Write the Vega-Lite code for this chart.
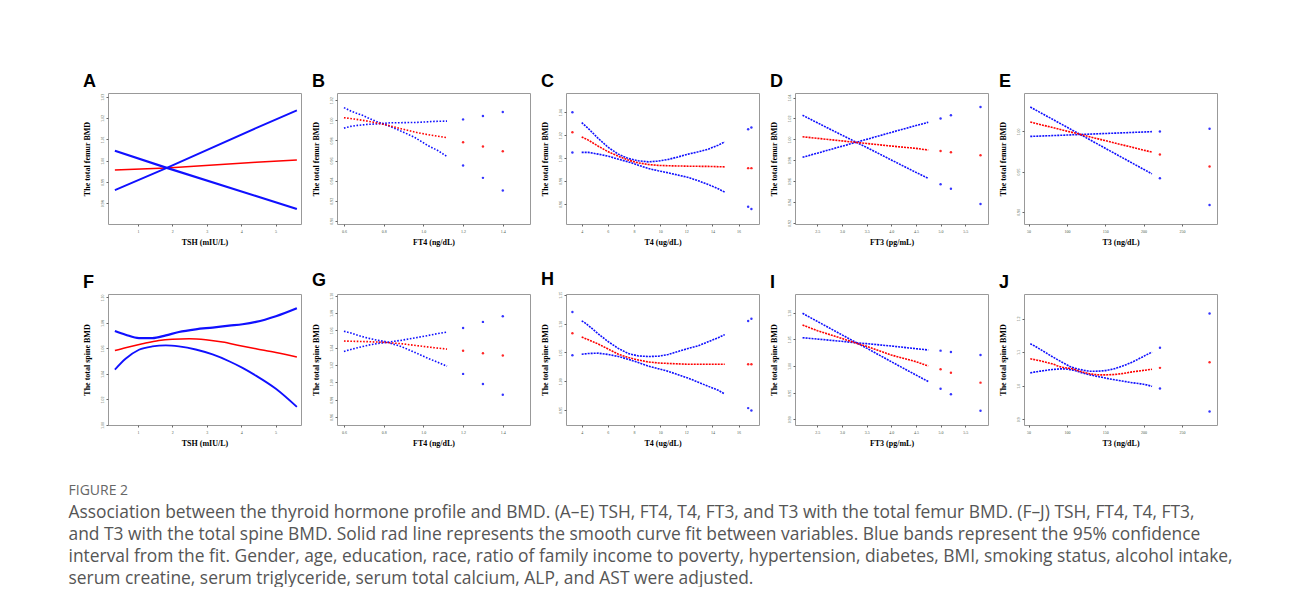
{
"$schema":"https://vega.github.io/schema/vega-lite/v6.json",
"background":"white",
"padding":{"left":68,"top":72,"right":0,"bottom":0},
"datasets":{
"A":[
{"s":"fit","x":0.33,"y":0.9956,"k":"l"},{"s":"fit","x":1.84,"y":0.9966,"k":"l"},{"s":"fit","x":4.43,"y":0.9992,"k":"l"},{"s":"fit","x":5.62,"y":1.0003,"k":"l"},
{"s":"lo","x":0.33,"y":0.9862,"k":"l"},{"s":"lo","x":1.84,"y":0.9966,"k":"l"},{"s":"lo","x":4.43,"y":1.0152,"k":"l"},{"s":"lo","x":5.62,"y":1.0236,"k":"l"},
{"s":"hi","x":0.33,"y":1.0046,"k":"l"},{"s":"hi","x":1.84,"y":0.9966,"k":"l"},{"s":"hi","x":4.43,"y":0.9834,"k":"l"},{"s":"hi","x":5.62,"y":0.9773,"k":"l"}],
"B":[
{"s":"hi","x":0.6,"y":1.0127,"k":"l"},{"s":"hi","x":0.635,"y":1.0093,"k":"l"},{"s":"hi","x":0.669,"y":1.0067,"k":"l"},{"s":"hi","x":0.694,"y":1.005,"k":"l"},{"s":"hi","x":0.719,"y":1.0027,"k":"l"},{"s":"hi","x":0.77,"y":0.9983,"k":"l"},{"s":"hi","x":0.82,"y":0.995,"k":"l"},{"s":"hi","x":0.887,"y":0.9893,"k":"l"},{"s":"hi","x":0.954,"y":0.9833,"k":"l"},{"s":"hi","x":1.022,"y":0.975,"k":"l"},{"s":"hi","x":1.072,"y":0.97,"k":"l"},{"s":"hi","x":1.119,"y":0.964,"k":"l"},
{"s":"hi","x":1.2,"y":0.955,"k":"p"},{"s":"hi","x":1.3,"y":0.9427,"k":"p"},{"s":"hi","x":1.4,"y":0.93,"k":"p"},
{"s":"lo","x":0.6,"y":0.9923,"k":"l"},{"s":"lo","x":0.635,"y":0.994,"k":"l"},{"s":"lo","x":0.669,"y":0.995,"k":"l"},{"s":"lo","x":0.719,"y":0.996,"k":"l"},{"s":"lo","x":0.786,"y":0.9967,"k":"l"},{"s":"lo","x":0.836,"y":0.9977,"k":"l"},{"s":"lo","x":0.887,"y":0.9977,"k":"l"},{"s":"lo","x":0.971,"y":0.998,"k":"l"},{"s":"lo","x":1.055,"y":0.999,"k":"l"},{"s":"lo","x":1.119,"y":0.9993,"k":"l"},
{"s":"lo","x":1.2,"y":1.001,"k":"p"},{"s":"lo","x":1.3,"y":1.0043,"k":"p"},{"s":"lo","x":1.4,"y":1.0083,"k":"p"},
{"s":"fit","x":0.6,"y":1.0027,"k":"l"},{"s":"fit","x":0.653,"y":1.0013,"k":"l"},{"s":"fit","x":0.719,"y":0.9993,"k":"l"},{"s":"fit","x":0.803,"y":0.996,"k":"l"},{"s":"fit","x":0.887,"y":0.9917,"k":"l"},{"s":"fit","x":0.971,"y":0.9877,"k":"l"},{"s":"fit","x":1.055,"y":0.9847,"k":"l"},{"s":"fit","x":1.119,"y":0.9827,"k":"l"},
{"s":"fit","x":1.2,"y":0.9783,"k":"p"},{"s":"fit","x":1.3,"y":0.974,"k":"p"},{"s":"fit","x":1.4,"y":0.9693,"k":"p"}],
"C":[
{"s":"hi","x":3.29,"y":1.04,"k":"p"},{"s":"fit","x":3.29,"y":1.0226,"k":"p"},{"s":"lo","x":3.29,"y":1.005,"k":"p"},
{"s":"hi","x":4.0,"y":1.031,"k":"l"},{"s":"hi","x":4.51,"y":1.0258,"k":"l"},{"s":"hi","x":4.89,"y":1.0215,"k":"l"},{"s":"hi","x":5.27,"y":1.0171,"k":"l"},{"s":"hi","x":6.04,"y":1.0093,"k":"l"},{"s":"hi","x":6.8,"y":1.0035,"k":"l"},{"s":"hi","x":7.56,"y":0.9997,"k":"l"},{"s":"hi","x":8.33,"y":0.9977,"k":"l"},{"s":"hi","x":9.09,"y":0.9968,"k":"l"},{"s":"hi","x":9.85,"y":0.9974,"k":"l"},{"s":"hi","x":10.62,"y":0.9989,"k":"l"},{"s":"hi","x":11.38,"y":1.0011,"k":"l"},{"s":"hi","x":12.15,"y":1.0035,"k":"l"},{"s":"hi","x":12.91,"y":1.0055,"k":"l"},{"s":"hi","x":13.67,"y":1.0078,"k":"l"},{"s":"hi","x":14.44,"y":1.0113,"k":"l"},{"s":"hi","x":14.94,"y":1.0142,"k":"l"},
{"s":"hi","x":16.73,"y":1.0252,"k":"p"},{"s":"hi","x":16.98,"y":1.0267,"k":"p"},
{"s":"lo","x":4.0,"y":1.005,"k":"l"},{"s":"lo","x":4.51,"y":1.005,"k":"l"},{"s":"lo","x":5.27,"y":1.0035,"k":"l"},{"s":"lo","x":6.04,"y":1.0017,"k":"l"},{"s":"lo","x":6.8,"y":0.9991,"k":"l"},{"s":"lo","x":7.56,"y":0.9968,"k":"l"},{"s":"lo","x":8.33,"y":0.9939,"k":"l"},{"s":"lo","x":9.09,"y":0.991,"k":"l"},{"s":"lo","x":9.85,"y":0.989,"k":"l"},{"s":"lo","x":10.62,"y":0.9872,"k":"l"},{"s":"lo","x":11.38,"y":0.9852,"k":"l"},{"s":"lo","x":12.15,"y":0.9832,"k":"l"},{"s":"lo","x":12.91,"y":0.9803,"k":"l"},{"s":"lo","x":13.67,"y":0.9771,"k":"l"},{"s":"lo","x":14.44,"y":0.9733,"k":"l"},{"s":"lo","x":14.94,"y":0.9704,"k":"l"},
{"s":"lo","x":16.73,"y":0.9577,"k":"p"},{"s":"lo","x":16.98,"y":0.9557,"k":"p"},
{"s":"fit","x":4.0,"y":1.0185,"k":"l"},{"s":"fit","x":4.51,"y":1.0157,"k":"l"},{"s":"fit","x":5.27,"y":1.0104,"k":"l"},{"s":"fit","x":6.04,"y":1.0055,"k":"l"},{"s":"fit","x":6.8,"y":1.0017,"k":"l"},{"s":"fit","x":7.56,"y":0.9983,"k":"l"},{"s":"fit","x":8.33,"y":0.9959,"k":"l"},{"s":"fit","x":9.09,"y":0.9945,"k":"l"},{"s":"fit","x":9.85,"y":0.9937,"k":"l"},{"s":"fit","x":10.87,"y":0.9933,"k":"l"},{"s":"fit","x":12.15,"y":0.993,"k":"l"},{"s":"fit","x":13.67,"y":0.9928,"k":"l"},{"s":"fit","x":14.94,"y":0.9924,"k":"l"},
{"s":"fit","x":16.73,"y":0.9913,"k":"p"},{"s":"fit","x":16.98,"y":0.9913,"k":"p"}],
"D":[
{"s":"hi","x":2.2,"y":1.0231,"k":"l"},{"s":"hi","x":2.5,"y":1.0159,"k":"l"},{"s":"hi","x":2.99,"y":1.0043,"k":"l"},{"s":"hi","x":3.31,"y":0.9968,"k":"l"},{"s":"hi","x":3.5,"y":0.9923,"k":"l"},{"s":"hi","x":4.0,"y":0.9803,"k":"l"},{"s":"hi","x":4.5,"y":0.9684,"k":"l"},{"s":"hi","x":4.75,"y":0.9627,"k":"l"},
{"s":"hi","x":5.0,"y":0.9571,"k":"p"},{"s":"hi","x":5.21,"y":0.9527,"k":"p"},{"s":"hi","x":5.81,"y":0.9381,"k":"p"},
{"s":"lo","x":2.2,"y":0.9829,"k":"l"},{"s":"lo","x":2.5,"y":0.9868,"k":"l"},{"s":"lo","x":2.99,"y":0.9933,"k":"l"},{"s":"lo","x":3.31,"y":0.9975,"k":"l"},{"s":"lo","x":3.5,"y":1.0,"k":"l"},{"s":"lo","x":4.0,"y":1.0067,"k":"l"},{"s":"lo","x":4.5,"y":1.0132,"k":"l"},{"s":"lo","x":4.75,"y":1.0164,"k":"l"},
{"s":"lo","x":5.0,"y":1.02,"k":"p"},{"s":"lo","x":5.21,"y":1.0231,"k":"p"},{"s":"lo","x":5.81,"y":1.031,"k":"p"},
{"s":"fit","x":2.2,"y":1.0025,"k":"l"},{"s":"fit","x":2.5,"y":1.001,"k":"l"},{"s":"fit","x":2.99,"y":0.9986,"k":"l"},{"s":"fit","x":3.31,"y":0.997,"k":"l"},{"s":"fit","x":3.5,"y":0.9961,"k":"l"},{"s":"fit","x":4.0,"y":0.9936,"k":"l"},{"s":"fit","x":4.5,"y":0.9914,"k":"l"},{"s":"fit","x":4.75,"y":0.9898,"k":"l"},
{"s":"fit","x":5.0,"y":0.9889,"k":"p"},{"s":"fit","x":5.21,"y":0.9876,"k":"p"},{"s":"fit","x":5.81,"y":0.9848,"k":"p"}],
"E":[
{"s":"hi","x":52.2,"y":1.0304,"k":"l"},{"s":"hi","x":67.4,"y":1.0224,"k":"l"},{"s":"hi","x":100,"y":1.0053,"k":"l"},{"s":"hi","x":117.4,"y":0.9962,"k":"l"},{"s":"hi","x":150,"y":0.979,"k":"l"},{"s":"hi","x":187,"y":0.9596,"k":"l"},{"s":"hi","x":200,"y":0.9528,"k":"l"},{"s":"hi","x":210.9,"y":0.9471,"k":"l"},
{"s":"hi","x":221.3,"y":0.9417,"k":"p"},{"s":"hi","x":286.1,"y":0.9083,"k":"p"},
{"s":"lo","x":52.2,"y":0.9938,"k":"l"},{"s":"lo","x":67.4,"y":0.9943,"k":"l"},{"s":"lo","x":100,"y":0.9955,"k":"l"},{"s":"lo","x":117.4,"y":0.9962,"k":"l"},{"s":"lo","x":150,"y":0.9974,"k":"l"},{"s":"lo","x":187,"y":0.9988,"k":"l"},{"s":"lo","x":200,"y":0.9993,"k":"l"},{"s":"lo","x":210.9,"y":0.9997,"k":"l"},
{"s":"lo","x":221.3,"y":1.0,"k":"p"},{"s":"lo","x":286.1,"y":1.0033,"k":"p"},
{"s":"fit","x":52.2,"y":1.0117,"k":"l"},{"s":"fit","x":67.4,"y":1.0081,"k":"l"},{"s":"fit","x":100,"y":1.0004,"k":"l"},{"s":"fit","x":117.4,"y":0.9963,"k":"l"},{"s":"fit","x":150,"y":0.9885,"k":"l"},{"s":"fit","x":187,"y":0.9798,"k":"l"},{"s":"fit","x":200,"y":0.9767,"k":"l"},{"s":"fit","x":210.9,"y":0.9742,"k":"l"},
{"s":"fit","x":221.3,"y":0.9713,"k":"p"},{"s":"fit","x":286.1,"y":0.9563,"k":"p"}],
"F":[
{"s":"fit","x":0.33,"y":1.0584,"k":"l"},{"s":"fit","x":0.64,"y":1.0606,"k":"l"},{"s":"fit","x":1.13,"y":1.0637,"k":"l"},{"s":"fit","x":1.61,"y":1.0663,"k":"l"},{"s":"fit","x":2.0,"y":1.0673,"k":"l"},{"s":"fit","x":2.49,"y":1.0677,"k":"l"},{"s":"fit","x":2.97,"y":1.0669,"k":"l"},{"s":"fit","x":3.46,"y":1.065,"k":"l"},{"s":"fit","x":3.94,"y":1.0624,"k":"l"},{"s":"fit","x":4.43,"y":1.0598,"k":"l"},{"s":"fit","x":5.01,"y":1.0568,"k":"l"},{"s":"fit","x":5.62,"y":1.0533,"k":"l"},
{"s":"hi","x":0.33,"y":1.0737,"k":"l"},{"s":"hi","x":0.64,"y":1.0708,"k":"l"},{"s":"hi","x":1.03,"y":1.0681,"k":"l"},{"s":"hi","x":1.42,"y":1.0681,"k":"l"},{"s":"hi","x":1.81,"y":1.0703,"k":"l"},{"s":"hi","x":2.19,"y":1.0729,"k":"l"},{"s":"hi","x":2.68,"y":1.075,"k":"l"},{"s":"hi","x":3.17,"y":1.0764,"k":"l"},{"s":"hi","x":3.65,"y":1.0779,"k":"l"},{"s":"hi","x":4.04,"y":1.079,"k":"l"},{"s":"hi","x":4.43,"y":1.0808,"k":"l"},{"s":"hi","x":5.01,"y":1.0853,"k":"l"},{"s":"hi","x":5.62,"y":1.0916,"k":"l"},
{"s":"lo","x":0.33,"y":1.0434,"k":"l"},{"s":"lo","x":0.64,"y":1.0519,"k":"l"},{"s":"lo","x":1.03,"y":1.059,"k":"l"},{"s":"lo","x":1.42,"y":1.0616,"k":"l"},{"s":"lo","x":1.81,"y":1.0624,"k":"l"},{"s":"lo","x":2.19,"y":1.0616,"k":"l"},{"s":"lo","x":2.68,"y":1.0592,"k":"l"},{"s":"lo","x":3.17,"y":1.0553,"k":"l"},{"s":"lo","x":3.65,"y":1.05,"k":"l"},{"s":"lo","x":4.04,"y":1.0448,"k":"l"},{"s":"lo","x":4.43,"y":1.0387,"k":"l"},{"s":"lo","x":5.01,"y":1.0284,"k":"l"},{"s":"lo","x":5.62,"y":1.0142,"k":"l"}],
"G":[
{"s":"hi","x":0.6,"y":1.059,"k":"l"},{"s":"hi","x":0.635,"y":1.057,"k":"l"},{"s":"hi","x":0.669,"y":1.0543,"k":"l"},{"s":"hi","x":0.719,"y":1.0512,"k":"l"},{"s":"hi","x":0.77,"y":1.0485,"k":"l"},{"s":"hi","x":0.803,"y":1.0473,"k":"l"},{"s":"hi","x":0.887,"y":1.0415,"k":"l"},{"s":"hi","x":0.954,"y":1.0349,"k":"l"},{"s":"hi","x":1.022,"y":1.0279,"k":"l"},{"s":"hi","x":1.072,"y":1.0233,"k":"l"},{"s":"hi","x":1.119,"y":1.0186,"k":"l"},
{"s":"hi","x":1.2,"y":1.0098,"k":"p"},{"s":"hi","x":1.3,"y":0.9981,"k":"p"},{"s":"hi","x":1.4,"y":0.9857,"k":"p"},
{"s":"lo","x":0.6,"y":1.0357,"k":"l"},{"s":"lo","x":0.635,"y":1.038,"k":"l"},{"s":"lo","x":0.669,"y":1.04,"k":"l"},{"s":"lo","x":0.719,"y":1.0427,"k":"l"},{"s":"lo","x":0.77,"y":1.045,"k":"l"},{"s":"lo","x":0.803,"y":1.0458,"k":"l"},{"s":"lo","x":0.887,"y":1.0485,"k":"l"},{"s":"lo","x":0.954,"y":1.0512,"k":"l"},{"s":"lo","x":1.022,"y":1.054,"k":"l"},{"s":"lo","x":1.072,"y":1.0563,"k":"l"},{"s":"lo","x":1.119,"y":1.0581,"k":"l"},
{"s":"lo","x":1.2,"y":1.0628,"k":"p"},{"s":"lo","x":1.3,"y":1.0698,"k":"p"},{"s":"lo","x":1.4,"y":1.0764,"k":"p"},
{"s":"fit","x":0.6,"y":1.0477,"k":"l"},{"s":"fit","x":0.669,"y":1.0473,"k":"l"},{"s":"fit","x":0.719,"y":1.047,"k":"l"},{"s":"fit","x":0.803,"y":1.0462,"k":"l"},{"s":"fit","x":0.887,"y":1.0447,"k":"l"},{"s":"fit","x":0.971,"y":1.0423,"k":"l"},{"s":"fit","x":1.055,"y":1.04,"k":"l"},{"s":"fit","x":1.119,"y":1.0384,"k":"l"},
{"s":"fit","x":1.2,"y":1.0365,"k":"p"},{"s":"fit","x":1.3,"y":1.0337,"k":"p"},{"s":"fit","x":1.4,"y":1.031,"k":"p"}],
"H":[
{"s":"hi","x":3.29,"y":1.1202,"k":"p"},{"s":"fit","x":3.29,"y":1.0833,"k":"p"},{"s":"lo","x":3.29,"y":1.0453,"k":"p"},
{"s":"hi","x":4.0,"y":1.1049,"k":"l"},{"s":"hi","x":4.25,"y":1.1014,"k":"l"},{"s":"hi","x":4.51,"y":1.0967,"k":"l"},{"s":"hi","x":4.89,"y":1.0896,"k":"l"},{"s":"hi","x":5.27,"y":1.0821,"k":"l"},{"s":"hi","x":6.04,"y":1.0686,"k":"l"},{"s":"hi","x":6.8,"y":1.057,"k":"l"},{"s":"hi","x":7.56,"y":1.0482,"k":"l"},{"s":"hi","x":8.33,"y":1.044,"k":"l"},{"s":"hi","x":9.09,"y":1.043,"k":"l"},{"s":"hi","x":9.85,"y":1.0435,"k":"l"},{"s":"hi","x":10.62,"y":1.0465,"k":"l"},{"s":"hi","x":11.38,"y":1.0518,"k":"l"},{"s":"hi","x":12.15,"y":1.057,"k":"l"},{"s":"hi","x":12.91,"y":1.0616,"k":"l"},{"s":"hi","x":13.67,"y":1.0686,"k":"l"},{"s":"hi","x":14.44,"y":1.0756,"k":"l"},{"s":"hi","x":14.94,"y":1.0809,"k":"l"},
{"s":"hi","x":16.73,"y":1.1044,"k":"p"},{"s":"hi","x":16.98,"y":1.1084,"k":"p"},
{"s":"lo","x":4.0,"y":1.047,"k":"l"},{"s":"lo","x":4.51,"y":1.0482,"k":"l"},{"s":"lo","x":5.27,"y":1.0488,"k":"l"},{"s":"lo","x":6.04,"y":1.0465,"k":"l"},{"s":"lo","x":6.8,"y":1.043,"k":"l"},{"s":"lo","x":7.56,"y":1.0382,"k":"l"},{"s":"lo","x":8.33,"y":1.0325,"k":"l"},{"s":"lo","x":9.09,"y":1.0265,"k":"l"},{"s":"lo","x":9.85,"y":1.0219,"k":"l"},{"s":"lo","x":10.62,"y":1.0172,"k":"l"},{"s":"lo","x":11.38,"y":1.0114,"k":"l"},{"s":"lo","x":12.15,"y":1.0054,"k":"l"},{"s":"lo","x":12.91,"y":0.9984,"k":"l"},{"s":"lo","x":13.67,"y":0.9914,"k":"l"},{"s":"lo","x":14.44,"y":0.9844,"k":"l"},{"s":"lo","x":14.94,"y":0.9781,"k":"l"},
{"s":"lo","x":16.73,"y":0.9535,"k":"p"},{"s":"lo","x":16.98,"y":0.9493,"k":"p"},
{"s":"fit","x":4.0,"y":1.0768,"k":"l"},{"s":"fit","x":4.51,"y":1.0721,"k":"l"},{"s":"fit","x":5.27,"y":1.0646,"k":"l"},{"s":"fit","x":6.04,"y":1.0558,"k":"l"},{"s":"fit","x":6.8,"y":1.047,"k":"l"},{"s":"fit","x":7.56,"y":1.0412,"k":"l"},{"s":"fit","x":8.33,"y":1.037,"k":"l"},{"s":"fit","x":9.09,"y":1.0335,"k":"l"},{"s":"fit","x":9.85,"y":1.0318,"k":"l"},{"s":"fit","x":10.87,"y":1.0307,"k":"l"},{"s":"fit","x":12.15,"y":1.0295,"k":"l"},{"s":"fit","x":13.67,"y":1.0295,"k":"l"},{"s":"fit","x":14.94,"y":1.0295,"k":"l"},
{"s":"fit","x":16.73,"y":1.0295,"k":"p"},{"s":"fit","x":16.98,"y":1.0295,"k":"p"}],
"I":[
{"s":"hi","x":2.2,"y":1.0988,"k":"l"},{"s":"hi","x":2.5,"y":1.0836,"k":"l"},{"s":"hi","x":2.99,"y":1.0589,"k":"l"},{"s":"hi","x":3.34,"y":1.0413,"k":"l"},{"s":"hi","x":3.5,"y":1.0335,"k":"l"},{"s":"hi","x":4.0,"y":1.0081,"k":"l"},{"s":"hi","x":4.5,"y":0.9831,"k":"l"},{"s":"hi","x":4.75,"y":0.9709,"k":"l"},
{"s":"hi","x":5.0,"y":0.9575,"k":"p"},{"s":"hi","x":5.21,"y":0.9469,"k":"p"},{"s":"hi","x":5.81,"y":0.9162,"k":"p"},
{"s":"lo","x":2.2,"y":1.0531,"k":"l"},{"s":"lo","x":2.5,"y":1.0505,"k":"l"},{"s":"lo","x":2.99,"y":1.0463,"k":"l"},{"s":"lo","x":3.34,"y":1.0431,"k":"l"},{"s":"lo","x":3.5,"y":1.0419,"k":"l"},{"s":"lo","x":4.0,"y":1.0375,"k":"l"},{"s":"lo","x":4.5,"y":1.0325,"k":"l"},{"s":"lo","x":4.75,"y":1.03,"k":"l"},
{"s":"lo","x":5.0,"y":1.0288,"k":"p"},{"s":"lo","x":5.21,"y":1.0263,"k":"p"},{"s":"lo","x":5.81,"y":1.0206,"k":"p"},
{"s":"fit","x":2.2,"y":1.0769,"k":"l"},{"s":"fit","x":2.5,"y":1.0663,"k":"l"},{"s":"fit","x":2.99,"y":1.0519,"k":"l"},{"s":"fit","x":3.34,"y":1.0413,"k":"l"},{"s":"fit","x":3.5,"y":1.0369,"k":"l"},{"s":"fit","x":4.0,"y":1.0206,"k":"l"},{"s":"fit","x":4.5,"y":1.0081,"k":"l"},{"s":"fit","x":4.75,"y":1.0,"k":"l"},
{"s":"fit","x":5.0,"y":0.9938,"k":"p"},{"s":"fit","x":5.21,"y":0.9875,"k":"p"},{"s":"fit","x":5.81,"y":0.9688,"k":"p"}],
"J":[
{"s":"hi","x":52.2,"y":1.1251,"k":"l"},{"s":"hi","x":58.7,"y":1.117,"k":"l"},{"s":"hi","x":67.5,"y":1.105,"k":"l"},{"s":"hi","x":80.5,"y":1.087,"k":"l"},{"s":"hi","x":93.6,"y":1.0699,"k":"l"},{"s":"hi","x":106.6,"y":1.0549,"k":"l"},{"s":"hi","x":119.7,"y":1.0471,"k":"l"},{"s":"hi","x":132.7,"y":1.0429,"k":"l"},{"s":"hi","x":145.8,"y":1.0441,"k":"l"},{"s":"hi","x":158.8,"y":1.0489,"k":"l"},{"s":"hi","x":171.8,"y":1.0579,"k":"l"},{"s":"hi","x":184.9,"y":1.0699,"k":"l"},{"s":"hi","x":197.9,"y":1.0849,"k":"l"},{"s":"hi","x":206.5,"y":1.0951,"k":"l"},{"s":"hi","x":211.0,"y":1.0999,"k":"l"},
{"s":"hi","x":221.4,"y":1.1131,"k":"p"},{"s":"hi","x":286.1,"y":1.2151,"k":"p"},
{"s":"lo","x":52.2,"y":1.0381,"k":"l"},{"s":"lo","x":58.7,"y":1.0411,"k":"l"},{"s":"lo","x":67.5,"y":1.0441,"k":"l"},{"s":"lo","x":80.5,"y":1.048,"k":"l"},{"s":"lo","x":93.6,"y":1.0501,"k":"l"},{"s":"lo","x":106.6,"y":1.0471,"k":"l"},{"s":"lo","x":119.7,"y":1.0385,"k":"l"},{"s":"lo","x":132.7,"y":1.031,"k":"l"},{"s":"lo","x":145.8,"y":1.0249,"k":"l"},{"s":"lo","x":158.8,"y":1.0189,"k":"l"},{"s":"lo","x":171.8,"y":1.0141,"k":"l"},{"s":"lo","x":184.9,"y":1.009,"k":"l"},{"s":"lo","x":197.9,"y":1.0051,"k":"l"},{"s":"lo","x":206.5,"y":1.0009,"k":"l"},{"s":"lo","x":211.0,"y":0.9979,"k":"l"},
{"s":"lo","x":221.4,"y":0.9919,"k":"p"},{"s":"lo","x":286.1,"y":0.9229,"k":"p"},
{"s":"fit","x":52.2,"y":1.0801,"k":"l"},{"s":"fit","x":58.7,"y":1.0771,"k":"l"},{"s":"fit","x":67.5,"y":1.0729,"k":"l"},{"s":"fit","x":80.5,"y":1.0651,"k":"l"},{"s":"fit","x":93.6,"y":1.0549,"k":"l"},{"s":"fit","x":106.6,"y":1.0505,"k":"l"},{"s":"fit","x":119.7,"y":1.041,"k":"l"},{"s":"fit","x":132.7,"y":1.0345,"k":"l"},{"s":"fit","x":145.8,"y":1.0321,"k":"l"},{"s":"fit","x":158.8,"y":1.033,"k":"l"},{"s":"fit","x":171.8,"y":1.036,"k":"l"},{"s":"fit","x":184.9,"y":1.0411,"k":"l"},{"s":"fit","x":197.9,"y":1.045,"k":"l"},{"s":"fit","x":211.0,"y":1.0489,"k":"l"},
{"s":"fit","x":221.4,"y":1.0531,"k":"p"},{"s":"fit","x":286.1,"y":1.0699,"k":"p"}]
},
"title":{"text":"FIGURE 2","subtitle":["Association between the thyroid hormone profile and BMD. (A–E) TSH, FT4, T4, FT3, and T3 with the total femur BMD. (F–J) TSH, FT4, T4, FT3,","and T3 with the total spine BMD. Solid rad line represents the smooth curve fit between variables. Blue bands represent the 95% confidence","interval from the fit. Gender, age, education, race, ratio of family income to poverty, hypertension, diabetes, BMI, smoking status, alcohol intake,","serum creatine, serum triglyceride, serum total calcium, ALP, and AST were adjusted."],"orient":"bottom","anchor":"start","frame":"bounds","dx":-14,"offset":36,"font":"Open Sans","fontSize":14,"fontWeight":"normal","color":"#666","subtitleFont":"Open Sans","subtitleFontSize":17.4,"subtitleColor":"#555","subtitleLineHeight":22,"subtitlePadding":6},
"spacing":23,
"vconcat":[
{"hconcat":[
{"width":193,"height":131,"title":{"text":"A"},"data":{"name":"A"},
"encoding":{"x":{"field":"x","type":"quantitative","scale":{"domain":[0.13,5.74],"nice":false,"zero":false},"axis":{"values":[1,2,3,4,5],"title":"TSH (mIU/L)"}},
"y":{"field":"y","type":"quantitative","scale":{"domain":[0.9703,1.0317],"nice":false,"zero":false},"axis":{"values":[0.98,0.99,1.0,1.01,1.02,1.03],"format":".2f","title":"The total femur BMD"}},
"color":{"field":"s","type":"nominal","scale":{"domain":["fit","lo","hi"],"range":["#ff0000","#1010ff","#1010ff"]},"legend":null}},
"layer":[{"transform":[{"filter":"datum.k=='l'"}],"mark":{"type":"line"},"encoding":{"strokeWidth":{"field":"s","type":"nominal","scale":{"domain":["fit","lo","hi"],"range":[1.5,2.2,2.2]},"legend":null}}}]},
{"width":193,"height":131,"title":{"text":"B"},"data":{"name":"B"},
"encoding":{"x":{"field":"x","type":"quantitative","scale":{"domain":[0.565,1.537],"nice":false,"zero":false},"axis":{"values":[0.6,0.8,1.0,1.2,1.4],"format":".1f","title":"FT4 (ng/dL)"}},
"y":{"field":"y","type":"quantitative","scale":{"domain":[0.8967,1.0273],"nice":false,"zero":false},"axis":{"values":[0.9,0.92,0.94,0.96,0.98,1.0,1.02],"format":".2f","title":"The total femur BMD"}},
"color":{"field":"s","type":"nominal","scale":{"domain":["fit","lo","hi"],"range":["#ff2020","#7070ff","#7070ff"]},"legend":null}},
"layer":[{"transform":[{"filter":"datum.k=='l'"}],"mark":{"type":"line","strokeWidth":1.6,"strokeDash":[1.6,1.6]}},{"transform":[{"filter":"datum.k=='p'"}],"mark":{"type":"circle","size":6,"opacity":0.85}}]},
{"width":193,"height":131,"title":{"text":"C"},"data":{"name":"C"},
"encoding":{"x":{"field":"x","type":"quantitative","scale":{"domain":[2.8,17.56],"nice":false,"zero":false},"axis":{"values":[4,6,8,10,12,14,16],"title":"T4 (ug/dL)"}},
"y":{"field":"y","type":"quantitative","scale":{"domain":[0.9426,1.0568],"nice":false,"zero":false},"axis":{"values":[0.96,0.98,1.0,1.02,1.04],"format":".2f","title":"The total femur BMD"}},
"color":{"field":"s","type":"nominal","scale":{"domain":["fit","lo","hi"],"range":["#ff2020","#5050ff","#5050ff"]},"legend":null}},
"layer":[{"transform":[{"filter":"datum.k=='l'"}],"mark":{"type":"line","strokeWidth":1.6,"strokeDash":[2,1]}},{"transform":[{"filter":"datum.k=='p'"}],"mark":{"type":"circle","size":6,"opacity":0.85}}]},
{"width":193,"height":131,"title":{"text":"D"},"data":{"name":"D"},
"encoding":{"x":{"field":"x","type":"quantitative","scale":{"domain":[2.047,5.962],"nice":false,"zero":false},"axis":{"values":[2.5,3.0,3.5,4.0,4.5,5.0,5.5],"format":".1f","title":"FT3 (pg/mL)"}},
"y":{"field":"y","type":"quantitative","scale":{"domain":[0.919,1.0444],"nice":false,"zero":false},"axis":{"values":[0.92,0.94,0.96,0.98,1.0,1.02,1.04],"format":".2f","title":"The total femur BMD"}},
"color":{"field":"s","type":"nominal","scale":{"domain":["fit","lo","hi"],"range":["#ff2020","#4040ff","#4040ff"]},"legend":null}},
"layer":[{"transform":[{"filter":"datum.k=='l'"}],"mark":{"type":"line","strokeWidth":1.6,"strokeDash":[2,1]}},{"transform":[{"filter":"datum.k=='p'"}],"mark":{"type":"circle","size":6,"opacity":0.85}}]},
{"width":193,"height":131,"title":{"text":"E"},"data":{"name":"E"},
"encoding":{"x":{"field":"x","type":"quantitative","scale":{"domain":[44,295.8],"nice":false,"zero":false},"axis":{"values":[50,100,150,200,250],"title":"T3 (ng/dL)"}},
"y":{"field":"y","type":"quantitative","scale":{"domain":[0.8846,1.0479],"nice":false,"zero":false},"axis":{"values":[0.9,0.95,1.0],"format":".2f","title":"The total femur BMD"}},
"color":{"field":"s","type":"nominal","scale":{"domain":["fit","lo","hi"],"range":["#ff2020","#4040ff","#4040ff"]},"legend":null}},
"layer":[{"transform":[{"filter":"datum.k=='l'"}],"mark":{"type":"line","strokeWidth":1.6,"strokeDash":[2,1]}},{"transform":[{"filter":"datum.k=='p'"}],"mark":{"type":"circle","size":6,"opacity":0.85}}]}
],"spacing":9},
{"hconcat":[
{"width":193,"height":131,"title":{"text":"F"},"data":{"name":"F"},
"encoding":{"x":{"field":"x","type":"quantitative","scale":{"domain":[0.13,5.74],"nice":false,"zero":false},"axis":{"values":[1,2,3,4,5],"title":"TSH (mIU/L)"}},
"y":{"field":"y","type":"quantitative","scale":{"domain":[1.0,1.1027],"nice":false,"zero":false},"axis":{"values":[1.0,1.02,1.04,1.06,1.08,1.1],"format":".2f","title":"The total spine BMD"}},
"color":{"field":"s","type":"nominal","scale":{"domain":["fit","lo","hi"],"range":["#ff0000","#1010ff","#1010ff"]},"legend":null}},
"layer":[{"transform":[{"filter":"datum.k=='l'"}],"mark":{"type":"line","interpolate":"monotone"},"encoding":{"strokeWidth":{"field":"s","type":"nominal","scale":{"domain":["fit","lo","hi"],"range":[1.5,2.2,2.2]},"legend":null}}}]},
{"width":193,"height":131,"title":{"text":"G"},"data":{"name":"G"},
"encoding":{"x":{"field":"x","type":"quantitative","scale":{"domain":[0.565,1.537],"nice":false,"zero":false},"axis":{"values":[0.6,0.8,1.0,1.2,1.4],"format":".1f","title":"FT4 (ng/dL)"}},
"y":{"field":"y","type":"quantitative","scale":{"domain":[0.9508,1.102],"nice":false,"zero":false},"axis":{"values":[0.96,0.98,1.0,1.02,1.04,1.06,1.08,1.1],"format":".2f","title":"The total spine BMD"}},
"color":{"field":"s","type":"nominal","scale":{"domain":["fit","lo","hi"],"range":["#ff2020","#7070ff","#7070ff"]},"legend":null}},
"layer":[{"transform":[{"filter":"datum.k=='l'"}],"mark":{"type":"line","strokeWidth":1.6,"strokeDash":[1.6,1.6]}},{"transform":[{"filter":"datum.k=='p'"}],"mark":{"type":"circle","size":6,"opacity":0.85}}]},
{"width":193,"height":131,"title":{"text":"H"},"data":{"name":"H"},
"encoding":{"x":{"field":"x","type":"quantitative","scale":{"domain":[2.8,17.56],"nice":false,"zero":false},"axis":{"values":[4,6,8,10,12,14,16],"title":"T4 (ug/dL)"}},
"y":{"field":"y","type":"quantitative","scale":{"domain":[0.9242,1.1514],"nice":false,"zero":false},"axis":{"values":[0.95,1.0,1.05,1.1,1.15],"format":".2f","title":"The total spine BMD"}},
"color":{"field":"s","type":"nominal","scale":{"domain":["fit","lo","hi"],"range":["#ff2020","#5050ff","#5050ff"]},"legend":null}},
"layer":[{"transform":[{"filter":"datum.k=='l'"}],"mark":{"type":"line","strokeWidth":1.6,"strokeDash":[2,1]}},{"transform":[{"filter":"datum.k=='p'"}],"mark":{"type":"circle","size":6,"opacity":0.85}}]},
{"width":193,"height":131,"title":{"text":"I"},"data":{"name":"I"},
"encoding":{"x":{"field":"x","type":"quantitative","scale":{"domain":[2.047,5.962],"nice":false,"zero":false},"axis":{"values":[2.5,3.0,3.5,4.0,4.5,5.0,5.5],"format":".1f","title":"FT3 (pg/mL)"}},
"y":{"field":"y","type":"quantitative","scale":{"domain":[0.8894,1.135],"nice":false,"zero":false},"axis":{"values":[0.9,0.95,1.0,1.05,1.1],"format":".2f","title":"The total spine BMD"}},
"color":{"field":"s","type":"nominal","scale":{"domain":["fit","lo","hi"],"range":["#ff2020","#4040ff","#4040ff"]},"legend":null}},
"layer":[{"transform":[{"filter":"datum.k=='l'"}],"mark":{"type":"line","strokeWidth":1.6,"strokeDash":[2,1]}},{"transform":[{"filter":"datum.k=='p'"}],"mark":{"type":"circle","size":6,"opacity":0.85}}]},
{"width":193,"height":131,"title":{"text":"J"},"data":{"name":"J"},
"encoding":{"x":{"field":"x","type":"quantitative","scale":{"domain":[44,295.8],"nice":false,"zero":false},"axis":{"values":[50,100,150,200,250],"title":"T3 (ng/dL)"}},
"y":{"field":"y","type":"quantitative","scale":{"domain":[0.883,1.273],"nice":false,"zero":false},"axis":{"values":[0.9,1.0,1.1,1.2],"format":".1f","title":"The total spine BMD"}},
"color":{"field":"s","type":"nominal","scale":{"domain":["fit","lo","hi"],"range":["#ff2020","#3030ff","#3030ff"]},"legend":null}},
"layer":[{"transform":[{"filter":"datum.k=='l'"}],"mark":{"type":"line","strokeWidth":1.6,"strokeDash":[2,1],"interpolate":"monotone"}},{"transform":[{"filter":"datum.k=='p'"}],"mark":{"type":"circle","size":6,"opacity":0.85}}]}
],"spacing":9}
],
"config":{
"view":{"stroke":"#999","strokeWidth":1},
"axis":{"domain":false,"grid":false,"tickSize":2,"tickColor":"#666","labelFontSize":4,"labelColor":"#4a5a4a","labelFont":"Liberation Serif","titleFont":"Liberation Serif","titleFontSize":8,"titleFontWeight":"bold","titleColor":"#000"},
"axisY":{"labelAngle":270,"labelAlign":"center","labelBaseline":"bottom","labelPadding":2,"minExtent":10,"maxExtent":10,"titlePadding":7},
"axisX":{"labelPadding":3,"titlePadding":5},
"title":{"anchor":"start","frame":"group","dx":-25,"offset":2,"font":"Liberation Sans","fontSize":18,"fontWeight":"bold","color":"#000"}
}
}
